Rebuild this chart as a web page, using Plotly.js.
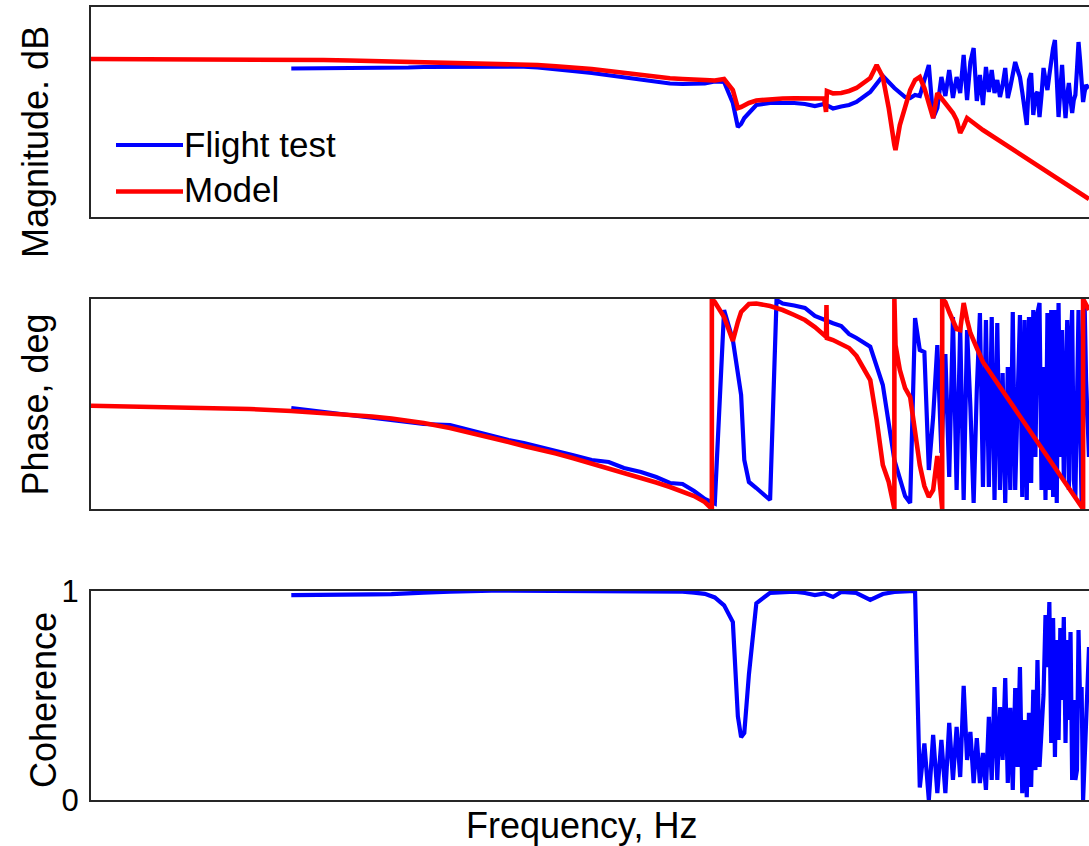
<!DOCTYPE html>
<html><head><meta charset="utf-8">
<script src="https://cdn.plot.ly/plotly-3.0.1.min.js"></script>
<style>html,body{margin:0;padding:0;background:#fff;overflow:hidden}</style>
</head><body><div id="chart" style="width:1089px;height:846px"></div>
<script>
// ---------- data ----------
const seriesNames = ['Flight test', 'Model'];
const yTitles = ['Magnitude. dB', 'Phase, deg', 'Coherence'];
const xTitle = 'Frequency, Hz';
const cohTickVals = [0, 1];
const cohTickText = ['0', '1'];

// flight-test frequency points, Hz
const freqFT = [0.4,0.5,0.6,0.7,0.8,0.9,1.0,1.2,1.4,1.6,1.8,2.0,2.2,2.5,2.8,3.2,3.6,4.0,4.5,5.0,
  5.5,6.0,6.5,7.0,7.5,8.0,8.5,8.8,9.0,9.2,9.5,10,11,11.5,12,13,14,15,16,17,18,19,20,22,24,26,28,29,30,
  31,32,33,34,35,36,37,38,39,40,41,42,43,44,45,46,47,48,49,50,
  51,52,53,54,55,56,57,58,59,60,61,62,63,64,65,66,67,68,69,70,
  71,72,73,74,75,76,77,78,79,80,81,82,83,84,85,86,87,88,89,90,
  91,92,93,94,95,96,97,98,99,100];

// flight-test magnitude, dB
const magFT = [-0.5,-0.5,-0.5,-0.5,-0.43,-0.17,0,0.1,0.17,0.17,0.17,0.1,-0.17,-0.67,-1.33,-2.0,-2.83,-3.5,-4.33,-5.0,
  -5.5,-5.67,-5.67,-5.5,-4.83,-5.0,-12.0,-20.0,-19.0,-17.0,-15.33,-12.67,-12.0,-12.0,-11.9,-12.0,-12.33,-13.0,-12.33,-13.83,-13.17,-12.67,-11.67,-8.33,-3.0,-7.0,-10.0,-10.33,-9.33,
  -9.67,-4.33,0.67,-17,-13.67,-3.33,-9.67,-1,-10.33,-3.33,
  -8.67,4,-11,1.67,6.33,-11.33,-2.67,-12.67,0,-8.33,
  -1,-8.67,-4.33,-10,-6,-0.33,-10.33,-6.67,-2.67,1.67,
  -1,-3.33,-8.33,-14.33,-19.33,-4.33,-2,-16,-9.33,-8.33,
  -16.67,-9.33,-0.33,-4.33,-7.67,-2.67,3,6.33,9,-4.33,
  -16.67,-7.67,0.67,-9.33,-17,-9.33,-5.33,-11,-15.33,-11,
  -9.33,-1,8.33,2.33,-4.33,-11.67,-8.33,-6,-6.67,-7];

// flight-test phase, deg
const phaseFT = [-6.9,-13.7,-18.9,-24.0,-29.1,-32.6,-34.3,-36.0,-46.3,-54.9,-61.7,-66.9,-72.0,-80.6,-87.4,-96.0,-99.4,-109.7,-116.6,-125.1,
  -135.4,-137.1,-149.1,-162.9,-170.6,161.1,109.7,58.3,15.4,-96.0,-133.7,-144.0,-164.6,178.3,172.3,168.9,164.6,150.9,144.0,138.3,133.7,120.0,113.1,98.2,32.6,-96.0,-157.7,-169.7,147.4,
  92.6,89.1,-113.1,-22.3,101.1,-84.0,85.7,-125.1,149.1,-147.4,
  132.0,-164.6,126.9,-5.1,-169.7,24.0,156.0,-142.3,144.0,-142.3,
  149.1,-164.6,138.9,-147.4,53.1,-169.7,63.4,-147.4,157.7,-147.4,
  6.9,152.6,-159.4,144.0,-164.6,149.1,-135.4,161.1,-90.9,156.0,
  173.1,-147.4,63.4,-164.6,156.0,-147.4,161.1,-159.4,161.1,-169.7,
  173.1,-90.9,126.9,-130.3,6.9,144.0,-147.4,92.6,161.1,-130.3,
  -159.4,6.9,161.1,-27.4,-169.7,-27.4,173.1,41.1,-61.7,-90.9];

// flight-test coherence
const cohFT = [0.979,0.979,0.979,0.982,0.984,0.989,0.991,0.995,0.999,1.0,1.0,1.0,1.0,1.0,1.0,1.0,1.0,1.0,1.0,1.0,
  0.999,0.996,0.991,0.985,0.968,0.93,0.85,0.40,0.30,0.32,0.60,0.94,0.99,0.991,0.994,0.995,0.989,0.979,0.987,0.970,0.994,0.991,0.989,0.956,0.984,0.994,0.999,1.0,0.999,
  0.06,0.27,0.0,0.311,0.033,0.287,0.033,0.368,0.096,0.349,
  0.110,0.545,0.191,0.325,0.081,0.296,0.081,0.225,0.048,0.397,
  0.096,0.540,0.096,0.444,0.191,0.583,0.081,0.440,0.048,0.535,
  0.158,0.635,0.033,0.382,0.014,0.416,0.062,0.526,0.143,0.669,
  0.158,0.368,0.502,0.884,0.635,0.946,0.272,0.870,0.205,0.764,
  0.287,0.822,0.478,0.874,0.272,0.764,0.382,0.803,0.096,0.478,
  0.096,0.143,0.812,0.478,0.540,0.0,0.191,0.416,0.573,0.731];

// model magnitude
const freqModelMag = [0.1,0.2,0.3,0.4,0.5,0.6,0.7,0.8,0.9,1.0,
  1.2,1.4,1.6,1.8,2.0,2.2,2.5,2.8,3.2,3.6,
  4.0,4.5,5.0,5.5,6.0,6.5,7.0,7.5,8.0,8.5,
  8.8,9.0,9.5,10,11,12,13,14,15,16,
  16.2,16.3,17,18,19,20,22,23,24,25,
  26,26.2,27,28,29,30,31,32,33,34,
  35,36,37,38,39,40,41,42,43,45,
  48,100];
const magModel = [2.67,2.67,2.67,2.57,2.33,2.17,2.0,1.9,1.77,1.67,
  1.57,1.43,1.23,1.1,1.0,0.67,0.23,-0.1,-0.67,-1.33,
  -2.0,-2.77,-3.33,-3.77,-4.0,-4.33,-4.33,-4.5,-4.0,-7.67,
  -13.67,-13.33,-12.0,-11.17,-10.67,-10.5,-10.43,-10.43,-10.43,-10.5,
  -15.0,-8.0,-8.77,-8.67,-8.0,-7.0,-3.67,0.67,-3.33,-13.67,
  -26.0,-27.67,-19.33,-12.67,-7.67,-4.33,-3.33,-7.0,-12.0,-17.0,
  -8.67,-10.33,-11.67,-13.67,-15.33,-17.67,-22.0,-19.67,-17.0,-18.67,
  -21.0,-44.0];

// model phase (wraps at +/-180)
const freqModelPhase = [0.1,0.2,0.3,0.4,0.5,0.6,0.7,0.8,0.9,1.0,
  1.2,1.4,1.6,1.8,2.0,2.2,2.5,2.8,3.2,3.6,
  4.0,4.5,5.0,5.5,6.0,6.5,7.0,7.35,7.35,7.5,
  8.0,8.5,8.8,9.0,9.5,10,11,12,13,14,
  15,16.2,16.25,16.3,17,18,19,20,22,23,
  24,25,26,26,26.2,27,28,29,30,31,
  32,33,34,35,36,36.2,36.2,37,38,39,
  40,41,42,43,44,46,48,96,96,100];
const phaseModel = [-2.9,-6.0,-8.6,-12.0,-15.4,-18.0,-21.4,-24.9,-28.3,-32.6,
  -41.1,-49.7,-57.4,-65.1,-72.0,-77.1,-84.9,-92.6,-102.0,-109.7,
  -117.4,-126.0,-134.6,-142.3,-150.0,-157.7,-168.0,-180,180,174.9,
  149.1,108.0,140.6,157.7,171.4,172.3,168.0,161.1,152.6,144.0,
  132.0,115.4,169.7,113.1,109.7,102.9,96.0,82.3,41.1,-27.4,
  -104.6,-133.7,-180,180,101.1,58.3,27.4,12.0,-44.6,-104.6,
  -140.6,-159.4,-147.4,-89.1,-164.6,-180,180,174.9,157.7,140.6,
  128.6,126.9,173.1,144.0,121.7,96.0,72.0,-180,180,161.1];

// ---------- layout ----------
const W = 1089, H = 846, L = 91, T = 7, B = 46;
const plotW = W - L, plotH = H - T - B;
const px2x = px => (px - L) / plotW;
const py2y = py => (H - B - py) / plotH;
const FONT = '"Liberation Sans", Arial, Helvetica, sans-serif';
const BLUE = 'rgb(0,0,255)', RED = 'rgb(255,0,0)', AX = '#262626';

const xCommon = {type: 'log', range: [-1, 2], showline: true, mirror: true, linecolor: AX, linewidth: 2,
  showgrid: false, zeroline: false, showticklabels: false, ticks: ''};
const yCommon = {showline: true, mirror: false, linecolor: AX, linewidth: 2,
  showgrid: false, zeroline: false, showticklabels: false, ticks: ''};

const traces = [
  {x: freqFT, y: magFT, xaxis: 'x', yaxis: 'y', name: seriesNames[0], line: {color: BLUE, width: 4.2}},
  {x: freqModelMag, y: magModel, xaxis: 'x', yaxis: 'y', name: seriesNames[1], line: {color: RED, width: 4.6}},
  {x: freqFT, y: phaseFT, xaxis: 'x2', yaxis: 'y2', name: seriesNames[0], line: {color: BLUE, width: 4.2}},
  {x: freqModelPhase, y: phaseModel, xaxis: 'x2', yaxis: 'y2', name: seriesNames[1], line: {color: RED, width: 4.6}},
  {x: freqFT, y: cohFT, xaxis: 'x3', yaxis: 'y3', name: seriesNames[0], line: {color: BLUE, width: 4.2}}
].map(t => Object.assign({type: 'scatter', mode: 'lines', showlegend: false, hoverinfo: 'skip'}, t));

const titleFont = {family: FONT, size: 36, color: '#000'};
const layout = {
  width: W, height: H,
  margin: {l: L, r: 0, t: T, b: B, pad: 0},
  paper_bgcolor: '#fff', plot_bgcolor: '#fff',
  font: {family: FONT, color: '#000'},
  showlegend: false,
  xaxis: Object.assign({}, xCommon, {anchor: 'y', domain: [0, 1]}),
  yaxis: Object.assign({}, yCommon, {anchor: 'x', domain: [py2y(217), 1], range: [-50, 20]}),
  xaxis2: Object.assign({}, xCommon, {anchor: 'y2', domain: [0, 1]}),
  yaxis2: Object.assign({}, yCommon, {anchor: 'x2', domain: [py2y(509), py2y(299)], range: [-180, 180]}),
  xaxis3: Object.assign({}, xCommon, {anchor: 'y3', domain: [0, 1]}),
  yaxis3: Object.assign({}, yCommon, {anchor: 'x3', domain: [0, py2y(590.7)], range: [0, 1],
    tickvals: cohTickVals, ticktext: cohTickText, showticklabels: true, ticklabelstandoff: 4,
    tickfont: {family: FONT, size: 31, color: '#000'}}),
  shapes: [
    {type: 'line', xref: 'paper', yref: 'paper', x0: px2x(116), x1: px2x(183), y0: py2y(145), y1: py2y(145), line: {color: BLUE, width: 4.2}},
    {type: 'line', xref: 'paper', yref: 'paper', x0: px2x(116), x1: px2x(183), y0: py2y(191.5), y1: py2y(191.5), line: {color: RED, width: 4.6}}
  ],
  annotations: [
    {text: seriesNames[0], xref: 'paper', yref: 'paper', x: px2x(182), y: py2y(144), xanchor: 'left', yanchor: 'middle', showarrow: false, font: {family: FONT, size: 35, color: '#000'}},
    {text: seriesNames[1], xref: 'paper', yref: 'paper', x: px2x(182), y: py2y(190), xanchor: 'left', yanchor: 'middle', showarrow: false, font: {family: FONT, size: 35, color: '#000'}},
    {text: yTitles[0], xref: 'paper', yref: 'paper', x: px2x(35), y: py2y(142), xanchor: 'center', yanchor: 'middle', textangle: -90, showarrow: false, font: titleFont},
    {text: yTitles[1], xref: 'paper', yref: 'paper', x: px2x(35), y: py2y(404.5), xanchor: 'center', yanchor: 'middle', textangle: -90, showarrow: false, font: titleFont},
    {text: yTitles[2], xref: 'paper', yref: 'paper', x: px2x(43), y: py2y(700), xanchor: 'center', yanchor: 'middle', textangle: -90, showarrow: false, font: titleFont},
    {text: xTitle, xref: 'paper', yref: 'paper', x: px2x(581.5), y: py2y(825.5), xanchor: 'center', yanchor: 'middle', showarrow: false, font: titleFont}
  ]
};

Plotly.newPlot('chart', traces, layout, {staticPlot: true, displayModeBar: false});
</script>
</body></html>
